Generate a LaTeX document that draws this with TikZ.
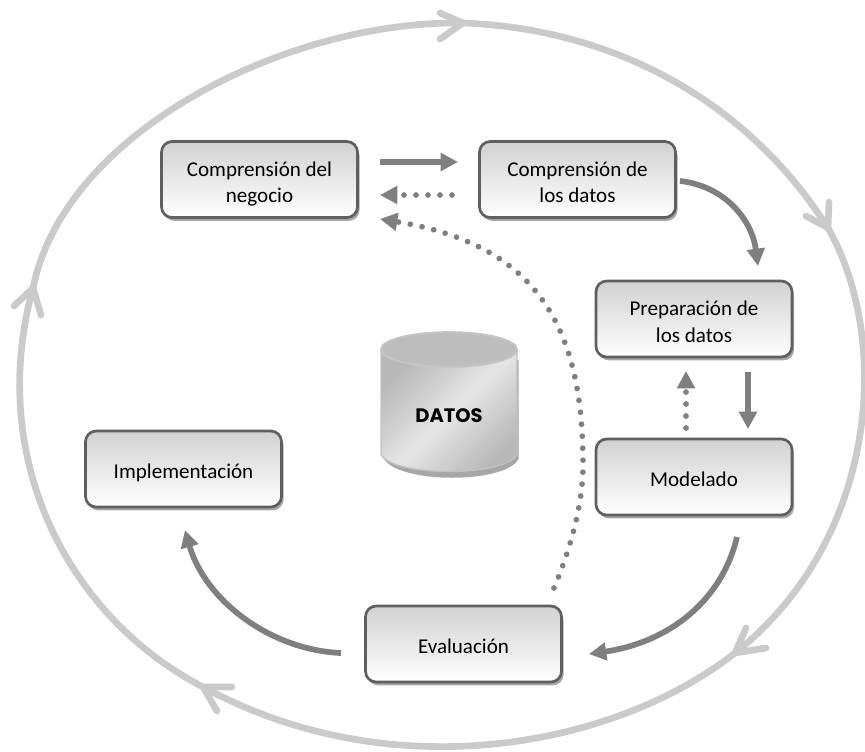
\documentclass[tikz,border=0pt]{standalone}
\usepackage{fontspec}
\setmainfont{Carlito}
\newfontfamily\datfont{Poppins}
\usetikzlibrary{arrows.meta,shadows,shapes.geometric,calc}
\definecolor{ring}{HTML}{CACACA}
\definecolor{flow}{HTML}{7F7F7F}
\definecolor{boxedge}{HTML}{5F5F5F}
\newcommand{\boxtext}[1]{\raisebox{-7pt}[0pt][0pt]{\begin{tabular}{@{}c@{}}#1\end{tabular}}}
\tikzset{
  x=0.75pt,y=-0.75pt,
  stagebox/.style={draw=boxedge,line width=2pt,rounded corners=8pt,
    top color=white!82!black,bottom color=white,font=\fontsize{15.8pt}{20pt}\selectfont,
    inner sep=0pt,minimum width=147pt,minimum height=57pt,
    drop shadow={shadow xshift=1.5pt,shadow yshift=-2.5pt,fill=black!35,opacity=1}},
  ringline/.style={draw=ring,line width=5pt,line cap=round,line join=round},
  flowsolid/.style={draw=flow,line width=4.5pt,-{Triangle[length=13pt,width=13pt]}},
  flowcurve/.style={draw=flow,line width=4.3pt,-{Triangle[length=13pt,width=13pt]}},
  flowdot/.style={draw=flow,line width=4.3pt,line cap=round,dash pattern=on 0pt off 9pt,
     -{Triangle[length=13pt,width=13pt]}},
}
\begin{document}
\begin{tikzpicture}
\useasboundingbox (0,0) rectangle (865,751);
% outer ring
\coordinate (rt) at (463,23);
\coordinate (rr) at (828,228);
\coordinate (rb) at (735,653);
\coordinate (rl) at (203,687);
\coordinate (ru) at (33,288);
\draw[ringline] (rt) .. controls (600,28) and (740,90) .. (rr)
  .. controls (892,340) and (878,540) .. (rb)
  .. controls (615,747) and (393,790) .. (rl)
  .. controls (68,617) and (-14,458) .. (ru)
  .. controls (65,130) and (290,20) .. (rt);
\draw[ringline] (440,13) -- (rt) -- (440,39);
\draw[ringline] (829,202) -- (rr) -- (806,216);
\draw[ringline] (746,628) -- (rb) -- (766,648);
\draw[ringline] (232,687) -- (rl) -- (217,711);
\draw[ringline] (14,306) -- (ru) -- (41,315);
% boxes
\node[stagebox] (neg) at (259.5,179.5) {\boxtext{Comprensión del\\negocio}};
\node[stagebox] (com) at (577.5,179.5) {\boxtext{Comprensión de\\los datos}};
\node[stagebox] (pre) at (694,319) {\boxtext{Preparación de\\los datos}};
\node[stagebox] (mod) at (694,477) {\boxtext{Modelado}};
\node[stagebox] (imp) at (183.5,469) {\boxtext{Implementación}};
\node[stagebox] (eva) at (463.5,644) {\boxtext{Evaluación}};
% cylinder
\fill[black!35] (384,360) -- (518.5,360) -- (518.5,459) .. controls (505,484) and (400,484) .. (384,459) -- cycle;
\shade[top color=white!72!black,bottom color=white!72!black,middle color=white!90!black,shading angle=45,draw=white!76!black,line width=1pt]
  (381,350) -- (381,455) .. controls (395,477) and (503,477) .. (517,455) -- (517,350) -- cycle;
\node[draw=white!77!black,line width=1.5pt,fill=white!74!black,ellipse,minimum width=102pt,minimum height=26pt,inner sep=0pt] (cap) at (449,349.5) {};
\node[font=\fontsize{14.6pt}{16pt}\selectfont\datfont\bfseries] (dat) at (449,416) {DATOS};
% flows
\coordinate (a1s) at (380,162); \coordinate (a1e) at (458,162);
\coordinate (a2s) at (452,195); \coordinate (a2e) at (380,195);
\draw[flowsolid] (a1s) -- (a1e);
\draw[flowdot] (a2s) -- (a2e);
\coordinate (a3s) at (680,181); \coordinate (a3e) at (758,266);
\draw[flowcurve] (a3s) .. controls (725,186) and (752,220) .. (a3e);
\coordinate (a4s) at (748,372); \coordinate (a4e) at (748,429);
\draw[flowsolid] (a4s) -- (a4e);
\coordinate (a5s) at (686,428); \coordinate (a5e) at (686,371);
\draw[flowdot] (a5s) -- (a5e);
\coordinate (a6s) at (737,537); \coordinate (a6e) at (589,654);
\draw[flowcurve] (a6s) .. controls (722,600) and (670,642) .. (a6e);
\coordinate (a7s) at (341,653); \coordinate (a7e) at (185,530);
\draw[flowcurve] (a7s) .. controls (270,650) and (205,600) .. (a7e);
\coordinate (a8s) at (554,588); \coordinate (a8m) at (583,465); \coordinate (a8e) at (380,219);
\draw[flowdot] (a8s) .. controls (570,550) and (583,505) .. (a8m)
  .. controls (583,330) and (540,245) .. (a8e);
\end{tikzpicture}
\end{document}
